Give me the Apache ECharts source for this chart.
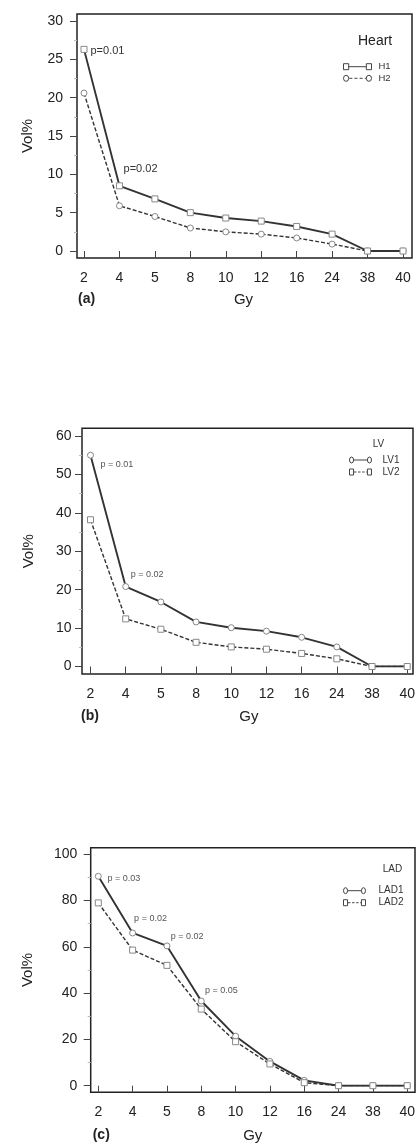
<!DOCTYPE html>
<html>
<head>
<meta charset="utf-8">
<script src="https://cdn.jsdelivr.net/npm/echarts@6/dist/echarts.min.js"></script>
<style>
html,body{margin:0;padding:0;background:#fff;}
#chart{width:418px;height:1145px;}
</style>
</head>
<body>
<div id="chart"></div>
<script>
// ---- data ----
const categories = ['2','4','5','8','10','12','16','24','38','40'];
const heartH1 = [26.3, 8.5, 6.8, 5.0, 4.3, 3.9, 3.2, 2.2, 0, 0];
const heartH2 = [20.6, 5.9, 4.5, 3.0, 2.5, 2.2, 1.7, 0.9, 0, 0];
const lvLV1 = [55.0, 20.8, 16.8, 11.6, 10.1, 9.2, 7.6, 5.1, 0, 0];
const lvLV2 = [38.2, 12.4, 9.7, 6.3, 5.1, 4.5, 3.4, 2.0, 0, 0];
const ladLAD1 = [90.5, 66.0, 60.4, 36.6, 21.4, 10.5, 2.3, 0, 0, 0];
const ladLAD2 = [79.0, 58.6, 52.0, 33.1, 19.0, 9.4, 1.3, 0, 0, 0];
const heartP = ['p=0.01', 'p=0.02', '', '', '', '', '', '', '', ''];
const lvP = ['p = 0.01', 'p = 0.02', '', '', '', '', '', '', '', ''];
const ladP = ['p = 0.03', 'p = 0.02', 'p = 0.02', 'p = 0.05', '', '', '', '', '', ''];
const yTicksHeart = [0, 30, 5];
const yTicksLV = [0, 60, 10];
const yTicksLAD = [0, 100, 20];

// ---- styling / layout ----
const FONT = "'Liberation Sans', Arial, sans-serif";
const panels = [
  { inner:{left:84, top:21, width:319, height:230}, frame:{left:77, top:14, width:335, height:244},
    yMargin:14, nameGapY:42, nameGapX:34, yt:yTicksHeart },
  { inner:{left:90.5, top:436, width:321.2, height:230.5}, frame:{left:82, top:428.3, width:331, height:245.7},
    yMargin:10.5, nameGapY:46, nameGapX:35, yt:yTicksLV },
  { inner:{left:98.3, top:854.3, width:312.4, height:231.4}, frame:{left:90.7, top:847.7, width:324.3, height:244.6},
    yMargin:13.4, nameGapY:55, nameGapX:36, yt:yTicksLAD }
];

const grids = [], xAxes = [], yAxes = [];
panels.forEach((p, i) => {
  grids.push(Object.assign({show:false}, p.inner));
  xAxes.push({
    gridIndex:i, type:'category', data:categories, boundaryGap:false,
    offset: (p.frame.top + p.frame.height) - (p.inner.top + p.inner.height),
    axisLine:{show:false},
    axisTick:{show:true, length:7, interval:0, lineStyle:{color:'#444', width:1}},
    axisLabel:{interval:0, margin:13, fontSize:14, color:'#222', fontFamily:FONT},
    name:'Gy', nameLocation:'middle', nameGap:p.nameGapX,
    nameTextStyle:{fontSize:15, color:'#222', fontFamily:FONT},
    splitLine:{show:false}
  });
  yAxes.push({
    gridIndex:i, type:'value', min:p.yt[0], max:p.yt[1], interval:p.yt[2],
    offset: p.inner.left - p.frame.left,
    axisLine:{show:false},
    axisTick:{show:true, length:7, lineStyle:{color:'#444', width:1}},
    minorTick:{show:true, splitNumber:2, length:3, lineStyle:{color:'#bbb'}},
    axisLabel:{margin:p.yMargin, fontSize:14, color:'#222', fontFamily:FONT},
    name:'Vol%', nameLocation:'middle', nameGap:p.nameGapY,
    nameTextStyle:{fontSize:15, color:'#222', fontFamily:FONT},
    splitLine:{show:false}
  });
});
// frame grids (boxes)
panels.forEach((p, i) => {
  grids.push(Object.assign({show:true, borderColor:'#222', borderWidth:1.5, backgroundColor:'transparent'}, p.frame));
  xAxes.push({gridIndex:3+i, type:'value', show:false});
  yAxes.push({gridIndex:3+i, type:'value', show:false});
});

const symStyle = {color:'#fff', borderColor:'#888', borderWidth:1};
function withLabels(values, labels, offsets, fontSize, color) {
  return values.map((v, k) => {
    if (!labels[k]) return v;
    return {value:v, label:{show:true, position:'right', distance:0, offset:offsets[k],
      formatter:labels[k], fontSize:fontSize, color:color, fontFamily:FONT}};
  });
}
function lineSeries(name, idx, data, symbol, dashed) {
  return {
    name:name, type:'line', xAxisIndex:idx, yAxisIndex:idx, data:data,
    symbol:symbol, symbolSize:6, showAllSymbol:true, z: dashed ? 3 : 4,
    lineStyle:{color:'#333', width: dashed ? 1.4 : 1.9, type: dashed ? [4,2] : 'solid'},
    itemStyle:symStyle, emphasis:{disabled:true}, animation:false
  };
}

const series = [
  Object.assign(lineSeries('H2', 0, heartH2, 'circle', true), {z:3}),
  Object.assign(lineSeries('H1', 0, withLabels(heartH1, heartP, [[3,2],[0.6,-16.4]], 11, '#333'), 'rect', false), {z:4}),
  lineSeries('LV1', 1, withLabels(lvLV1, lvP, [[6.5,9.7],[1.5,-12.4]], 9, '#555'), 'circle', false),
  Object.assign(lineSeries('LV2', 1, lvLV2, 'rect', true), {z:5}),
  lineSeries('LAD1', 2, withLabels(ladLAD1, ladP, [[5.7,2.7],[-2,-14.7],[0.3,-9],[0.3,-10.3]], 9, '#555'), 'circle', false),
  Object.assign(lineSeries('LAD2', 2, ladLAD2, 'rect', true), {z:5})
];

// legend icons
const SQ_SOLID_SQ = 'path://M0.5,0.5 H5.5 V5.5 H0.5 Z M5.5,3 H22.5 M22.5,0.5 H27.5 V5.5 H22.5 Z';
const CI_DASH_CI = 'path://M0.5,3 A2.5,2.5 0 1,1 5.5,3 A2.5,2.5 0 1,1 0.5,3 Z M6,3 H9 M11,3 H14 M16,3 H19 M21,3 H22.5 M22.5,3 A2.5,2.5 0 1,1 27.5,3 A2.5,2.5 0 1,1 22.5,3 Z';
const CI_SOLID_CI = 'path://M0.5,3 A2.5,2.5 0 1,1 5.5,3 A2.5,2.5 0 1,1 0.5,3 Z M5.5,3 H22.5 M22.5,3 A2.5,2.5 0 1,1 27.5,3 A2.5,2.5 0 1,1 22.5,3 Z';
const SQ_DASH_SQ = 'path://M0.5,0.5 H5.5 V5.5 H0.5 Z M6,3 H9 M11,3 H14 M16,3 H19 M21,3 H22.5 M22.5,0.5 H27.5 V5.5 H22.5 Z';
const legendBase = {
  orient:'vertical', padding:0, itemHeight:6, symbolKeepAspect:false, selectedMode:false,
  itemStyle:{color:'#fff', borderColor:'#444', borderWidth:1},
  textStyle:{fontSize:9, color:'#333', fontFamily:FONT, lineHeight:10}
};
const legends = [
  Object.assign({}, legendBase, {left:343, top:61.7, itemWidth:28, itemGap:1.6,
    textStyle:Object.assign({}, legendBase.textStyle, {fontSize:9.5, padding:[0,0,0,2]}),
    data:[{name:'H1', icon:SQ_SOLID_SQ}, {name:'H2', icon:CI_DASH_CI}]}),
  Object.assign({}, legendBase, {left:349, top:455, itemWidth:22, itemGap:2,
    textStyle:Object.assign({}, legendBase.textStyle, {fontSize:10, padding:[0,0,0,6]}),
    data:[{name:'LV1', icon:CI_SOLID_CI}, {name:'LV2', icon:SQ_DASH_SQ}]}),
  Object.assign({}, legendBase, {left:343, top:885.7, itemWidth:22, itemGap:2,
    textStyle:Object.assign({}, legendBase.textStyle, {fontSize:10, padding:[0,0,0,8]}),
    data:[{name:'LAD1', icon:CI_SOLID_CI}, {name:'LAD2', icon:SQ_DASH_SQ}]})
];

const titles = [
  {text:'Heart', left:358, top:34, padding:0, textStyle:{fontSize:14, fontWeight:'normal', color:'#222', fontFamily:FONT}},
  {text:'LV', left:372.7, top:439, padding:0, textStyle:{fontSize:10, fontWeight:'normal', color:'#333', fontFamily:FONT}},
  {text:'LAD', left:382.7, top:864, padding:0, textStyle:{fontSize:10, fontWeight:'normal', color:'#333', fontFamily:FONT}},
  {text:'(a)', left:78, top:292, padding:0, textStyle:{fontSize:14, fontWeight:'bold', color:'#222', fontFamily:FONT}},
  {text:'(b)', left:81, top:709, padding:0, textStyle:{fontSize:14, fontWeight:'bold', color:'#222', fontFamily:FONT}},
  {text:'(c)', left:92.7, top:1128, padding:0, textStyle:{fontSize:14, fontWeight:'bold', color:'#222', fontFamily:FONT}}
];

const chart = echarts.init(document.getElementById('chart'), null, {renderer:'canvas'});
chart.setOption({
  animation:false,
  backgroundColor:'#fff',
  title:titles,
  legend:legends,
  grid:grids,
  xAxis:xAxes,
  yAxis:yAxes,
  series:series
});
</script>
</body>
</html>
